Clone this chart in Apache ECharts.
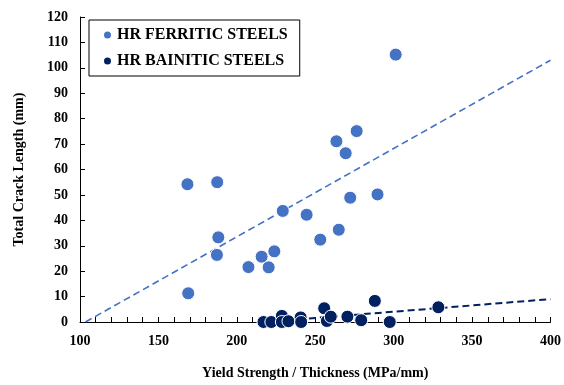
<!DOCTYPE html>
<html>
<head>
<meta charset="utf-8">
<script src="https://cdn.jsdelivr.net/npm/echarts@6/dist/echarts.min.js"></script>
<style>html,body{margin:0;padding:0;background:#fff;}#c{width:564px;height:385px;}</style>
</head>
<body>
<div id="c"></div>
<script>
const seriesNames = ['HR FERRITIC STEELS', 'HR BAINITIC STEELS'];
const ferriticData = [
  [168.5, 54.2], [169.0, 11.3], [187.5, 55.0], [188.2, 33.3], [187.3, 26.4],
  [207.4, 21.6], [215.8, 25.7], [220.3, 21.5], [223.9, 27.8], [229.3, 43.7],
  [244.5, 42.2], [253.2, 32.4], [265.0, 36.3], [272.3, 48.9], [289.7, 50.2],
  [269.4, 66.4], [263.5, 71.1], [276.4, 75.1], [301.3, 105.2]
];
const bainiticData = [
  [217.0, 0], [222.0, 0], [228.7, 2.4], [228.7, 0], [232.9, 0.3],
  [240.7, 1.8], [241.0, 0], [255.7, 5.4], [257.4, 0.4], [259.9, 2.1],
  [270.5, 2.1], [279.3, 0.7], [288.0, 8.3], [297.5, 0], [328.5, 5.8]
];
const ferriticTrend = [[103.5, 0], [400, 103]];
const bainiticTrend = [[218, 0], [400, 9]];
const xTicks = { min: 100, max: 400, labelStep: 50, tickStep: 10 };
const yTicks = { min: 0, max: 120, step: 10 };
const xTitle = 'Yield Strength / Thickness (MPa/mm)';
const yTitle = 'Total Crack Length (mm)';

const font = '"Liberation Serif", "Times New Roman", serif';
const blue = '#4472C4';
const navy = '#002060';

const chart = echarts.init(document.getElementById('c'), null, { renderer: 'canvas' });
chart.setOption({
  animation: false,
  backgroundColor: '#fff',
  grid: { left: 80, right: 10, top: 17, bottom: 63 },
  legend: {
    data: seriesNames,
    orient: 'vertical',
    left: 89, top: 20,
    padding: [7, 12, 7, 13],
    itemGap: 10,
    itemWidth: 9, itemHeight: 9,
    borderColor: '#000', borderWidth: 1,
    backgroundColor: '#fff',
    textStyle: { fontFamily: font, fontWeight: 'bold', fontSize: 16, color: '#000' }
  },
  xAxis: {
    type: 'value', min: xTicks.min, max: xTicks.max, interval: xTicks.tickStep,
    name: xTitle, nameLocation: 'middle', nameGap: 44,
    nameTextStyle: { fontFamily: font, fontWeight: 'bold', fontSize: 14, color: '#000' },
    axisLine: { show: true, lineStyle: { color: '#000', width: 1 } },
    axisTick: { show: true, inside: true, length: 5, lineStyle: { color: '#000' } },
    axisLabel: {
      fontFamily: font, fontWeight: 'bold', fontSize: 14, color: '#000', margin: 12,
      showMaxLabel: true,
      formatter: v => (v % xTicks.labelStep === 0 ? String(v) : '')
    },
    splitLine: { show: false }
  },
  yAxis: {
    type: 'value', min: yTicks.min, max: yTicks.max, interval: yTicks.step,
    name: yTitle, nameLocation: 'middle', nameGap: 54,
    nameTextStyle: { fontFamily: font, fontWeight: 'bold', fontSize: 14, color: '#000' },
    axisLine: { show: true, lineStyle: { color: '#000', width: 1 } },
    axisTick: { show: true, inside: true, length: 5, lineStyle: { color: '#000' } },
    axisLabel: { fontFamily: font, fontWeight: 'bold', fontSize: 14, color: '#000', margin: 12 },
    splitLine: { show: false }
  },
  series: [
    {
      type: 'line', data: ferriticTrend, showSymbol: false, symbol: 'none', silent: true,
      lineStyle: { color: blue, width: 1.6, type: [7, 4] }, z: 1
    },
    {
      type: 'line', data: bainiticTrend, showSymbol: false, symbol: 'none', silent: true,
      lineStyle: { color: navy, width: 2, type: [7, 4] }, z: 1
    },
    {
      name: seriesNames[0], type: 'scatter', data: ferriticData, symbolSize: 13,
      itemStyle: { color: blue, borderColor: '#fff', borderWidth: 1, opacity: 1 }, z: 3
    },
    {
      name: seriesNames[1], type: 'scatter', data: bainiticData, symbolSize: 13,
      itemStyle: { color: navy, borderColor: '#fff', borderWidth: 1, opacity: 1 }, z: 3
    }
  ]
});
</script>
</body>
</html>
